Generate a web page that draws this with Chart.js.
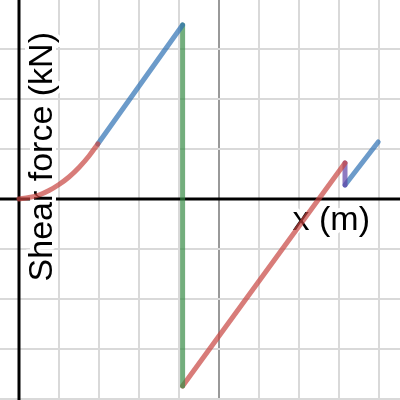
<!DOCTYPE html>
<html>
<head>
<meta charset="utf-8">
<script src="https://cdn.jsdelivr.net/npm/chart.js@4.4.1/dist/chart.umd.min.js"></script>
<style>
  html, body { margin: 0; padding: 0; background: #fff; }
  #wrap { width: 400px; height: 400px; }
</style>
</head>
<body>
<div id="wrap"><canvas id="shear" width="400" height="400"></canvas></div>
<script>
// grid positions (one square = 1 unit on each axis)
const xTicks = [0, 1, 2, 3, 4, 5, 6, 7, 8, 9];
const yTicks = [-4, -3, -2, -1, 0, 1, 2, 3];

// shear diagram pieces
const curveX = [0, 0.25, 0.5, 0.75, 1, 1.25, 1.5, 1.75, 1.97];
const curveY = [0, 0.03, 0.08, 0.17, 0.29, 0.44, 0.63, 0.86, 1.1];
const rampX = [1.97, 4.09];
const rampY = [1.1, 3.48];
const jumpX = [4.09, 4.09];
const jumpY = [3.48, -3.74];
const spanX = [4.09, 8.15];
const spanY = [-3.74, 0.72];
const dropX = [8.15, 8.15];
const dropY = [0.72, 0.28];
const tailX = [8.15, 8.98];
const tailY = [0.28, 1.14];

const xTitle = 'x (m)';
const yTitle = 'Shear force (kN)';

const RED = 'rgba(199, 68, 64, 0.7)';
const BLUE = 'rgba(45, 112, 179, 0.7)';
const GREEN = 'rgba(56, 140, 70, 0.7)';
const PURPLE = 'rgba(96, 66, 166, 0.7)';

function pts(xs, ys) {
    return xs.map((v, i) => ({ x: v, y: ys[i] }));
}

function seg(xs, ys, color) {
    return {
        data: pts(xs, ys),
        showLine: true,
        borderColor: color,
        borderWidth: 5,
        borderCapStyle: 'round',
        borderJoinStyle: 'round',
        pointRadius: 0,
        pointHoverRadius: 0,
        fill: false
    };
}

// axes + labels drawn under the curves, labels with a white halo like desmos
const axisLabels = {
    id: 'axisLabels',
    beforeDatasetsDraw(chart) {
        const { ctx, chartArea, scales } = chart;
        const x0 = scales.x.getPixelForValue(0);
        const y0 = scales.y.getPixelForValue(0);
        ctx.save();
        ctx.strokeStyle = '#000';
        ctx.lineWidth = 3;
        ctx.beginPath();
        ctx.moveTo(x0, chartArea.top);
        ctx.lineTo(x0, chartArea.bottom);
        ctx.moveTo(chartArea.left, y0);
        ctx.lineTo(chartArea.right, y0);
        ctx.stroke();

        ctx.font = '34px "Liberation Sans", Arial, sans-serif';
        ctx.lineJoin = 'round';
        ctx.lineWidth = 8;
        ctx.strokeStyle = '#fff';
        ctx.fillStyle = '#000';
        ctx.textBaseline = 'alphabetic';

        ctx.textAlign = 'right';
        ctx.strokeText(xTitle, chartArea.right - 30, y0 + 31);
        ctx.fillText(xTitle, chartArea.right - 30, y0 + 31);

        ctx.translate(x0 + 33, chartArea.top + 32);
        ctx.rotate(-Math.PI / 2);
        ctx.strokeText(yTitle, 0, 0);
        ctx.fillText(yTitle, 0, 0);
        ctx.restore();
    }
};

function gridColor(c) {
    const v = c.tick && c.tick.value;
    if (v === 0) return '#000';
    if (v === 5) return '#999';
    return '#d9d9d9';
}

const curve = seg(curveX, curveY, RED);
curve.cubicInterpolationMode = 'monotone';

new Chart(document.getElementById('shear').getContext('2d'), {
    type: 'scatter',
    data: {
        datasets: [
            curve,
            seg(rampX, rampY, BLUE),
            seg(jumpX, jumpY, GREEN),
            seg(spanX, spanY, RED),
            seg(dropX, dropY, PURPLE),
            seg(tailX, tailY, BLUE)
        ]
    },
    options: {
        responsive: false,
        animation: false,
        layout: { padding: 0 },
        plugins: {
            legend: { display: false },
            tooltip: { enabled: false }
        },
        scales: {
            x: {
                type: 'linear',
                min: -0.475,
                max: 9.525,
                afterBuildTicks: (axis) => { axis.ticks = xTicks.map(v => ({ value: v })); },
                ticks: { display: false },
                border: { display: false },
                grid: { drawTicks: false, color: gridColor, lineWidth: 2 }
            },
            y: {
                type: 'linear',
                min: -4.02,
                max: 3.98,
                afterBuildTicks: (axis) => { axis.ticks = yTicks.map(v => ({ value: v })); },
                ticks: { display: false },
                border: { display: false },
                grid: { drawTicks: false, color: gridColor, lineWidth: 2 }
            }
        }
    },
    plugins: [axisLabels]
});
</script>
</body>
</html>
